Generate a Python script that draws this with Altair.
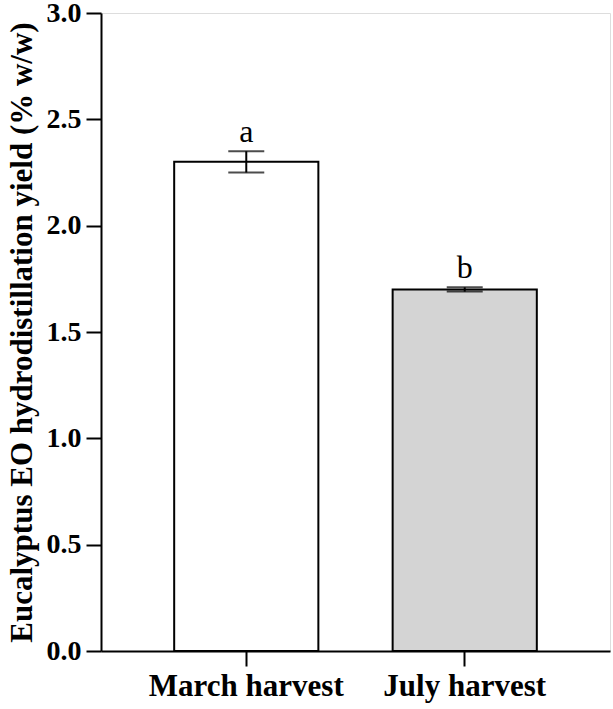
import altair as alt
import pandas as pd

categories = ["March harvest", "July harvest"]
means = [2.30, 1.70]
errors = [0.05, 0.01]
letters = ["a", "b"]
fills = ["#ffffff", "#d4d4d4"]

df = pd.DataFrame({
    "cat": categories,
    "mean": means,
    "lo": [m - e for m, e in zip(means, errors)],
    "hi": [m + e for m, e in zip(means, errors)],
    "letter": letters,
    "fill": fills,
})

FONT = "Liberation Serif"

x = alt.X("cat:N", sort=categories,
          scale=alt.Scale(paddingInner=0.34, paddingOuter=0.335),
          axis=alt.Axis(title=None, labelAngle=0, labelFont=FONT, labelFontSize=31,
                        labelFontWeight="bold", labelColor="black", labelPadding=5,
                        labelLimit=400, labelOverlap=False,
                        tickSize=15, tickWidth=2, tickColor="black",
                        domainWidth=2, domainColor="black"))
yscale = alt.Scale(domain=[0, 3], nice=False)

base = alt.Chart(df)

bars = base.mark_bar(stroke="black", strokeWidth=2).encode(
    x=x,
    y=alt.Y("mean:Q", scale=yscale,
            axis=alt.Axis(title="Eucalyptus EO hydrodistillation yield (% w/w)",
                          values=[0, 0.5, 1.0, 1.5, 2.0, 2.5, 3.0], format=".1f",
                          labelFont=FONT, labelFontSize=28, labelFontWeight="bold",
                          labelColor="black", labelPadding=5,
                          tickSize=15, tickWidth=2, tickColor="black",
                          domainWidth=2, domainColor="black", grid=False,
                          titleFont=FONT, titleFontSize=31, titleFontWeight="bold",
                          titleColor="black", titleX=-79, titleY=319,
                          titleAngle=-90, titleAlign="center", titleBaseline="middle",
                          titleLimit=800)),
    fill=alt.Fill("fill:N", scale=None),
)

rule = base.mark_rule(color="black", strokeWidth=2).encode(
    x=alt.X("cat:N", sort=categories), y=alt.Y("lo:Q", scale=yscale), y2="hi:Q")

cap_lo = base.mark_tick(color="black", thickness=2, size=36, orient="horizontal").encode(
    x=alt.X("cat:N", sort=categories), y=alt.Y("lo:Q", scale=yscale))
cap_hi = base.mark_tick(color="black", thickness=2, size=36, orient="horizontal").encode(
    x=alt.X("cat:N", sort=categories), y=alt.Y("hi:Q", scale=yscale))

text = base.mark_text(font=FONT, fontSize=32, color="black", baseline="alphabetic", dy=-9).encode(
    x=alt.X("cat:N", sort=categories), y=alt.Y("hi:Q", scale=yscale), text="letter:N")

chart = alt.layer(bars, rule, cap_lo, cap_hi, text).properties(
    width=509, height=638,
    padding={"left": 101, "top": 13, "right": 3, "bottom": 58},
    autosize=alt.AutoSizeParams(type="none"),
).configure_view(stroke=None).configure(background="white")

chart.save("out.html", embed_options={"renderer": "svg", "actions": False})
